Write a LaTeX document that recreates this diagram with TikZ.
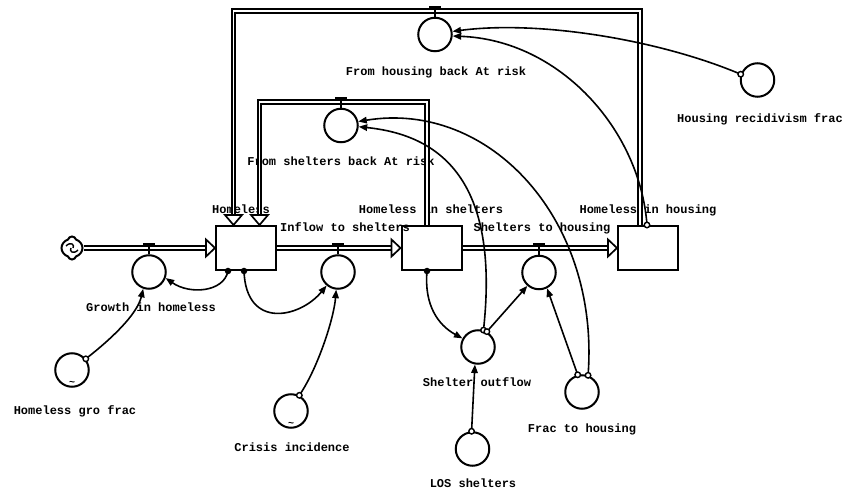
\documentclass[tikz,border=0pt]{standalone}
\usepackage{fontspec}
\newfontfamily\labfont{Liberation Mono}
\usetikzlibrary{arrows.meta,shapes.symbols}
\newcommand\valvetee[3]{%
  \draw[line width=1.4pt] (#1.north) -- ([yshift=#2pt]#1.north);
  \fill ([xshift=-6pt,yshift=#2pt]#1.north) rectangle ([xshift=6pt,yshift=#3pt]#1.north);}
\begin{document}
\begin{tikzpicture}[x=1pt,y=-1pt,
  stock/.style={draw,line width=2pt,minimum width=60pt,minimum height=44pt,inner sep=0},
  conv/.style={draw,circle,line width=2pt,minimum size=33.5pt,inner sep=0},
  pipe/.style={draw,line width=2.1pt,double=white,double distance=1.2pt,line join=miter},
  pipehead/.style={draw,line width=1.7pt,fill=white,line join=miter},
  link/.style={line width=1.6pt,-{Triangle[length=8.5pt,width=6.5pt]}},
  lab/.style={font=\labfont\bfseries\fontsize{12}{13}\selectfont,inner sep=0,anchor=base},
  dotS/.style={fill,circle,inner sep=0,minimum size=6.5pt},
  dotC/.style={draw,circle,line width=1.4pt,fill=white,inner sep=0,minimum size=5.5pt},
  tild/.style={font=\labfont\bfseries\fontsize{10}{10}\selectfont,inner sep=0}
]
\useasboundingbox (0,0) rectangle (844,494);
% labels
\node[lab] (lH)   at (241,214) {Homeless};
\node[lab] (lIn)  at (345,232) {Inflow to shelters};
\node[lab] (lHS)  at (431,214) {Homeless in shelters};
\node[lab] (lSH)  at (542,232) {Shelters to housing};
\node[lab] (lHH)  at (648,214) {Homeless in housing};
\node[lab] (lGro) at (151,312) {Growth in homeless};
\node[lab] (lHgf) at (75,414) {Homeless gro frac};
\node[lab] (lCi)  at (292,451) {Crisis incidence};
\node[lab] (lSo)  at (477,387) {Shelter outflow};
\node[lab] (lFth) at (582,432) {Frac to housing};
\node[lab] (lLos) at (473,487) {LOS shelters};
\node[lab] (lFhb) at (436,76) {From housing back At risk};
\node[lab] (lFsb) at (341,166) {From shelters back At risk};
\node[lab] (lHrf) at (760,123) {Housing recidivism frac};
% stocks
\node[stock] (H)  at (246,248) {};
\node[stock] (HS) at (431.5,248) {};
\node[stock] (HH) at (648,248) {};
% source cloud
\node[cloud,cloud puffs=4,draw,line width=2pt,minimum width=21pt,minimum height=23pt,inner sep=0] (src) at (72,248) {};
\draw[line width=1.4pt] ([xshift=-6pt,yshift=2pt]src.center) .. controls ([xshift=-1pt,yshift=7pt]src.center) and ([xshift=3pt,yshift=3pt]src.center) .. ([xshift=1pt]src.center);
\draw[line width=1.4pt] ([xshift=6pt,yshift=-2pt]src.center) .. controls ([xshift=1pt,yshift=-7pt]src.center) and ([xshift=-3pt,yshift=-3pt]src.center) .. ([xshift=-1pt]src.center);
% valves and converters
\node[conv] (gro)  at (149,272) {};
\node[conv] (infl) at (338,272) {};
\node[conv] (sth)  at (539,272.5) {};
\node[conv] (fhb)  at (435,34.5) {};
\node[conv] (fsb)  at (341,125.5) {};
\node[conv] (hgf)  at (72,370) {};
\node[conv] (ci)   at (291,411) {};
\node[conv] (so)   at (478,347) {};
\node[conv] (fth)  at (582,392) {};
\node[conv] (los)  at (472.5,449) {};
\node[conv] (hrf)  at (757.5,80) {};
\node[tild] (t1) at (72,383) {\textasciitilde};
\node[tild] (t2) at (291,424) {\textasciitilde};
% main pipes
\draw[pipe,shorten >=8pt] (src.east) -- (H.west);
\draw[pipehead] (H.west) -- ++(-9,-8.5) -- ++(0,17) -- cycle;
\draw[pipe,shorten >=8pt] (H.east) -- (HS.west);
\draw[pipehead] (HS.west) -- ++(-9,-8.5) -- ++(0,17) -- cycle;
\draw[pipe,shorten >=8pt] (HS.east) -- (HH.west);
\draw[pipehead] (HH.west) -- ++(-9,-8.5) -- ++(0,17) -- cycle;
% back pipes
\coordinate (hb1) at (640,11);
\coordinate (hb2) at (233.5,11);
\draw[pipe,shorten >=9pt] ([xshift=-8pt]HH.north) -- (hb1) -- (hb2) -- ([xshift=-12.5pt]H.north);
\draw[pipehead] ([xshift=-12.5pt]H.north) -- ++(-8.5,-10) -- ++(17,0) -- cycle;
\coordinate (sb1) at (427,102);
\coordinate (sb2) at (259.5,102);
\draw[pipe,shorten >=9pt] ([xshift=-4.5pt]HS.north) -- (sb1) -- (sb2) -- ([xshift=13.5pt]H.north);
\draw[pipehead] ([xshift=13.5pt]H.north) -- ++(-8.5,-10) -- ++(17,0) -- cycle;
% tees
\valvetee{gro}{8.6}{11.6}
\valvetee{infl}{8.6}{11.6}
\valvetee{sth}{8.6}{11.6}
\valvetee{fhb}{8.1}{11.1}
\valvetee{fsb}{8.1}{11.1}
% connectors
\draw[link] ([xshift=-18pt]H.south) .. controls (224,292) and (190,295) .. (gro.-20);
\node[dotS] (d1) at ([xshift=-18pt]H.south) {};
\draw[link] ([xshift=-2pt]H.south) .. controls (246,330) and (300,318) .. (infl.230);
\node[dotS] (d2) at ([xshift=-2pt]H.south) {};
\draw[link] (hgf.39) .. controls (110,340) and (137,315) .. (gro.251);
\node[dotC] (o1) at (hgf.39) {};
\draw[link] (ci.62) .. controls (318,368) and (334,318) .. (infl.264);
\node[dotC] (o2) at (ci.62) {};
\draw[link] ([xshift=-4.5pt]HS.south) .. controls (424,305) and (438,325) .. (so.151);
\node[dotS] (d3) at ([xshift=-4.5pt]HS.south) {};
\draw[link] (so.72) .. controls (500,180) and (440,135) .. (fsb.-4);
\draw[link] (so.60) -- (sth.229);
\node[dotC] (o3) at (so.72) {};
\node[dotC] (o4) at (so.60) {};
\draw[link] (los.93) -- (so.260);
\node[dotC] (o5) at (los.93) {};
\draw[link] (fth.104) -- (sth.297);
\draw[link] (fth.70) .. controls (600,220) and (490,100) .. (fsb.13);
\node[dotC] (o6) at (fth.104) {};
\node[dotC] (o7) at (fth.70) {};
\draw[link] ([xshift=-1pt]HH.north) .. controls (640,130) and (560,40) .. (fhb.-5);
\node[dotC] (o8) at ([xshift=-1pt]HH.north) {};
\draw[link] (hrf.161) .. controls (660,40) and (540,20) .. (fhb.10);
\node[dotC] (o9) at (hrf.161) {};
\end{tikzpicture}
\end{document}
